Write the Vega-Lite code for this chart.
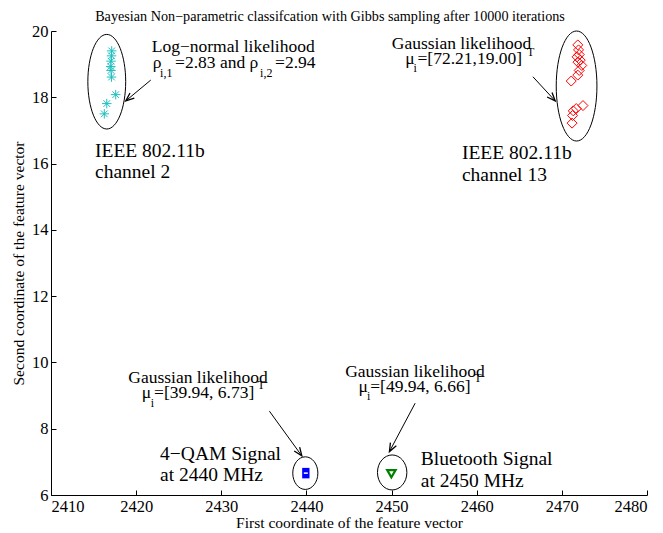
{
  "$schema": "https://vega.github.io/schema/vega-lite/v6.json",
  "width": 596,
  "height": 464,
  "autosize": {"type": "none"},
  "padding": {"left": 51, "top": 31, "right": 16, "bottom": 38},
  "background": "white",
  "title": {
    "text": "Bayesian Non−parametric classifcation with Gibbs sampling after 10000 iterations",
    "font": "Liberation Serif",
    "fontSize": 14.2,
    "fontWeight": "normal",
    "color": "black",
    "anchor": "middle",
    "frame": "group",
    "dx": -19,
    "offset": -1
  },
  "datasets": {
    "cyan": [
      {"x": 2417.13, "y": 19.40}, {"x": 2417.11, "y": 19.25}, {"x": 2417.05, "y": 19.09},
      {"x": 2417.02, "y": 18.93}, {"x": 2417.05, "y": 18.81}, {"x": 2417.11, "y": 18.61},
      {"x": 2417.60, "y": 18.08}, {"x": 2416.55, "y": 17.81}, {"x": 2416.26, "y": 17.50}
    ],
    "red": [
      {"x": 2471.87, "y": 19.58}, {"x": 2471.96, "y": 19.43}, {"x": 2472.04, "y": 19.29},
      {"x": 2471.79, "y": 19.22}, {"x": 2472.16, "y": 19.12}, {"x": 2471.89, "y": 19.06},
      {"x": 2472.34, "y": 18.96}, {"x": 2472.04, "y": 18.81}, {"x": 2471.87, "y": 18.67},
      {"x": 2471.10, "y": 18.49}, {"x": 2472.48, "y": 17.75}, {"x": 2471.69, "y": 17.66},
      {"x": 2471.34, "y": 17.59}, {"x": 2471.26, "y": 17.45}, {"x": 2471.20, "y": 17.22}
    ],
    "blue": [{"x": 2439.93, "y": 6.66}],
    "green": [{"x": 2449.98, "y": 6.64}],
    "ellipses": [
      {"name": "ch2", "x": 2416.55, "y": 18.47},
      {"name": "ch13", "x": 2471.73, "y": 18.34},
      {"name": "qam", "x": 2439.87, "y": 6.66},
      {"name": "bt", "x": 2450.07, "y": 6.68}
    ],
    "arrows": [
      {"id": 1, "x": 2418.78, "y": 17.89, "x2": 2421.72, "y2": 18.52},
      {"id": 2, "x": 2469.22, "y": 17.89, "x2": 2466.60, "y2": 18.62},
      {"id": 3, "x": 2439.46, "y": 7.18, "x2": 2435.65, "y2": 8.53},
      {"id": 4, "x": 2449.75, "y": 7.31, "x2": 2452.77, "y2": 8.77}
    ],
    "notes": [
      {"x": 2421.83, "y": 19.375, "t": "Log−normal likelihood"},
      {"x": 2421.95, "y": 18.89, "t": "ρ"},
      {"x": 2424.57, "y": 18.89, "t": "=2.83 and ρ"},
      {"x": 2436.32, "y": 18.89, "t": "=2.94"},
      {"x": 2450.03, "y": 19.46, "t": "Gaussian likelihood"},
      {"x": 2451.60, "y": 18.995, "t": "μ"},
      {"x": 2453.04, "y": 18.995, "t": "=[72.21,19.00]"},
      {"x": 2419.08, "y": 9.37, "t": "Gaussian likelihood"},
      {"x": 2420.66, "y": 8.92, "t": "μ"},
      {"x": 2422.10, "y": 8.92, "t": "=[39.94, 6.73]"},
      {"x": 2444.55, "y": 9.57, "t": "Gaussian likelihood"},
      {"x": 2446.11, "y": 9.12, "t": "μ"},
      {"x": 2447.49, "y": 9.12, "t": "=[49.94, 6.66]"}
    ],
    "scripts": [
      {"x": 2422.81, "y": 18.62, "t": "i,1"},
      {"x": 2434.56, "y": 18.62, "t": "i,2"},
      {"x": 2452.57, "y": 18.77, "t": "i"},
      {"x": 2465.90, "y": 19.25, "t": "T"},
      {"x": 2421.72, "y": 8.66, "t": "i"},
      {"x": 2434.24, "y": 9.19, "t": "T"},
      {"x": 2447.10, "y": 8.87, "t": "i"},
      {"x": 2459.71, "y": 9.40, "t": "T"}
    ],
    "captions": [
      {"x": 2415.17, "y": 16.21, "t": "IEEE 802.11b"},
      {"x": 2415.17, "y": 15.56, "t": "channel 2"},
      {"x": 2458.26, "y": 16.14, "t": "IEEE 802.11b"},
      {"x": 2458.26, "y": 15.47, "t": "channel 13"},
      {"x": 2422.81, "y": 7.055, "t": "4−QAM Signal"},
      {"x": 2422.81, "y": 6.43, "t": "at 2440 MHz"},
      {"x": 2453.44, "y": 6.90, "t": "Bluetooth Signal"},
      {"x": 2453.44, "y": 6.25, "t": "at 2450 MHz"}
    ]
  },
  "encoding": {
    "x": {
      "field": "x", "type": "quantitative",
      "scale": {"domain": [2410, 2480], "nice": false, "zero": false},
      "axis": {"title": "First coordinate of the feature vector", "values": [2410, 2420, 2430, 2440, 2450, 2460, 2470, 2480], "format": "d", "labelPadding": 8, "titlePadding": 1}
    },
    "y": {
      "field": "y", "type": "quantitative",
      "scale": {"domain": [6, 20], "nice": false, "zero": false},
      "axis": {"title": "Second coordinate of the feature vector", "values": [6, 8, 10, 12, 14, 16, 18, 20], "labelPadding": 8, "titlePadding": 5}
    }
  },
  "layer": [
    {
      "data": {"name": "ellipses"},
      "transform": [{"filter": "datum.name === 'ch2'"}],
      "mark": {"type": "point", "shape": "M0,-1A0.4,1 0 1,1 0,1A0.4,1 0 1,1 0,-1Z", "size": 8949, "filled": false, "color": "black", "strokeWidth": 1, "opacity": 1}
    },
    {
      "data": {"name": "ellipses"},
      "transform": [{"filter": "datum.name === 'ch13'"}],
      "mark": {"type": "point", "shape": "M0,-1A0.37,1 0 1,1 0,1A0.37,1 0 1,1 0,-1Z", "size": 12100, "filled": false, "color": "black", "strokeWidth": 1, "opacity": 1}
    },
    {
      "data": {"name": "ellipses"},
      "transform": [{"filter": "datum.name === 'qam'"}],
      "mark": {"type": "point", "shape": "M0,-1A0.77,1 0 1,1 0,1A0.77,1 0 1,1 0,-1Z", "size": 1063, "filled": false, "color": "black", "strokeWidth": 1, "opacity": 1}
    },
    {
      "data": {"name": "ellipses"},
      "transform": [{"filter": "datum.name === 'bt'"}],
      "mark": {"type": "point", "shape": "M0,-1A0.84,1 0 1,1 0,1A0.84,1 0 1,1 0,-1Z", "size": 1225, "filled": false, "color": "black", "strokeWidth": 1, "opacity": 1}
    },
    {
      "data": {"name": "cyan"},
      "mark": {"type": "point", "shape": "M-1,0H1M0,-1V1M-0.7,-0.7L0.7,0.7M-0.7,0.7L0.7,-0.7", "size": 90, "filled": false, "color": "#20bfbf", "strokeWidth": 1, "opacity": 1}
    },
    {
      "data": {"name": "red"},
      "mark": {"type": "point", "shape": "diamond", "size": 100, "filled": false, "color": "#ff0000", "strokeWidth": 1, "opacity": 1}
    },
    {
      "data": {"name": "blue"},
      "mark": {"type": "point", "shape": "M-0.7,-1H0.7V1H-0.7Z", "size": 110, "filled": true, "color": "#0000ff", "opacity": 1}
    },
    {
      "data": {"name": "blue"},
      "mark": {"type": "point", "shape": "M-0.5,0H0.5", "size": 64, "filled": false, "color": "white", "strokeWidth": 1.5, "opacity": 1}
    },
    {
      "data": {"name": "green"},
      "mark": {"type": "point", "shape": "triangle-down", "size": 70, "filled": false, "color": "#008000", "strokeWidth": 2.2, "opacity": 1}
    },
    {
      "data": {"name": "arrows"},
      "mark": {"type": "rule", "color": "black", "strokeWidth": 1},
      "encoding": {"x2": {"field": "x2"}, "y2": {"field": "y2"}}
    },
    {
      "data": {"name": "arrows"},
      "transform": [{"filter": "datum.id === 1"}],
      "mark": {"type": "point", "shape": "M-0.4,-1L0,0L0.4,-1", "size": 280, "angle": 50, "filled": false, "color": "black", "strokeWidth": 1.3, "opacity": 1}
    },
    {
      "data": {"name": "arrows"},
      "transform": [{"filter": "datum.id === 2"}],
      "mark": {"type": "point", "shape": "M-0.4,-1L0,0L0.4,-1", "size": 280, "angle": -42.5, "filled": false, "color": "black", "strokeWidth": 1.3, "opacity": 1}
    },
    {
      "data": {"name": "arrows"},
      "transform": [{"filter": "datum.id === 3"}],
      "mark": {"type": "point", "shape": "M-0.4,-1L0,0L0.4,-1", "size": 280, "angle": -35.8, "filled": false, "color": "black", "strokeWidth": 1.3, "opacity": 1}
    },
    {
      "data": {"name": "arrows"},
      "transform": [{"filter": "datum.id === 4"}],
      "mark": {"type": "point", "shape": "M-0.4,-1L0,0L0.4,-1", "size": 280, "angle": 28, "filled": false, "color": "black", "strokeWidth": 1.3, "opacity": 1}
    },
    {
      "data": {"name": "notes"},
      "mark": {"type": "text", "align": "left", "baseline": "alphabetic", "font": "Liberation Serif", "fontSize": 17.5, "color": "black"},
      "encoding": {"text": {"field": "t"}}
    },
    {
      "data": {"name": "scripts"},
      "mark": {"type": "text", "align": "left", "baseline": "alphabetic", "font": "Liberation Serif", "fontSize": 12, "color": "black"},
      "encoding": {"text": {"field": "t"}}
    },
    {
      "data": {"name": "captions"},
      "mark": {"type": "text", "align": "left", "baseline": "alphabetic", "font": "Liberation Serif", "fontSize": 19.5, "color": "black"},
      "encoding": {"text": {"field": "t"}}
    }
  ],
  "config": {
    "view": {"stroke": null},
    "axis": {
      "grid": false,
      "domainColor": "black",
      "domainWidth": 1,
      "tickColor": "black",
      "tickWidth": 1,
      "tickSize": -5,
      "labelFont": "Liberation Serif",
      "labelFontSize": 16.5,
      "labelColor": "black",
      "titleFont": "Liberation Serif",
      "titleFontSize": 15.5,
      "titleFontWeight": "normal",
      "titleColor": "black"
    }
  }
}
